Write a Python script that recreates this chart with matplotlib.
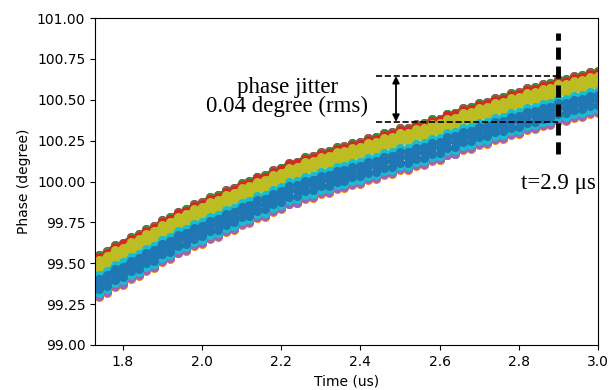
import matplotlib.pyplot as plt
import numpy as np

# time samples (us) and centre of the phase band (degree)
time_us = [1.72, 1.74, 1.76, 1.78, 1.80, 1.82, 1.84, 1.86, 1.88, 1.90,
           1.92, 1.94, 1.96, 1.98, 2.00, 2.02, 2.04, 2.06, 2.08, 2.10,
           2.12, 2.14, 2.16, 2.18, 2.20, 2.22, 2.24, 2.26, 2.28, 2.30,
           2.32, 2.34, 2.36, 2.38, 2.40, 2.42, 2.44, 2.46, 2.48, 2.50,
           2.52, 2.54, 2.56, 2.58, 2.60, 2.62, 2.64, 2.66, 2.68, 2.70,
           2.72, 2.74, 2.76, 2.78, 2.80, 2.82, 2.84, 2.86, 2.88, 2.90,
           2.92, 2.94, 2.96, 2.98, 3.00]
phase_center = [99.39, 99.425, 99.448, 99.485, 99.50, 99.535, 99.552, 99.585, 99.60, 99.64,
                99.656, 99.69, 99.705, 99.735, 99.75, 99.78, 99.79, 99.82, 99.835, 99.865,
                99.876, 99.905, 99.915, 99.945, 99.96, 99.99, 99.996, 100.025, 100.03, 100.055,
                100.06, 100.085, 100.09, 100.11, 100.116, 100.14, 100.146, 100.17, 100.176, 100.20,
                100.201, 100.225, 100.231, 100.255, 100.26, 100.29, 100.296, 100.325, 100.331, 100.355,
                100.361, 100.385, 100.391, 100.415, 100.42, 100.445, 100.451, 100.47, 100.476, 100.50,
                100.501, 100.52, 100.526, 100.545, 100.55]

# each recorded trace: colour and offset from the band centre (degree), in plotting order
trace_colors = ['tab:gray', 'tab:purple', 'tab:brown', 'tab:orange', 'tab:green', 'tab:red',
                'tab:pink', 'tab:orange', 'tab:gray', 'tab:red', 'tab:green', 'tab:purple',
                'tab:cyan', 'tab:olive', 'tab:olive', 'tab:olive', 'tab:cyan',
                'tab:blue', 'tab:blue', 'tab:blue']
trace_offsets = [0.125, 0.12, 0.125, 0.115, 0.12, 0.115,
                 -0.125, -0.13, -0.12, -0.115, -0.12, -0.125,
                 -0.105, 0.095, 0.065, 0.04, 0.005,
                 -0.02, -0.05, -0.085]

y_ticks = [99.00, 99.25, 99.50, 99.75, 100.00, 100.25, 100.50, 100.75, 101.00]
x_ticks = [1.8, 2.0, 2.2, 2.4, 2.6, 2.8, 3.0]

jitter_top = 100.645
jitter_bottom = 100.365
t_mark = 2.9

fig = plt.figure(figsize=(6.1, 3.9), dpi=100)
ax = fig.add_axes([0.1557, 0.1154, 0.8246, 0.8384])

t = np.array(time_us)
base = np.array(phase_center)
for col, off in zip(trace_colors, trace_offsets):
    ax.plot(t, base + off, '-o', color=col, ms=6.5, mew=0, lw=2.5)

# jitter markers
ax.plot([2.44, t_mark], [jitter_top, jitter_top], 'k--', lw=1.2)
ax.plot([2.44, t_mark], [jitter_bottom, jitter_bottom], 'k--', lw=1.2)
ax.annotate('', xy=(2.49, jitter_top), xytext=(2.49, jitter_bottom),
            arrowprops=dict(arrowstyle='<|-|>', color='k', lw=1.3,
                            mutation_scale=10, shrinkA=0, shrinkB=0))
ax.plot([t_mark, t_mark], [100.17, 100.91], color='k', lw=3.5, dashes=(2.5, 1.4))

serif = ['Liberation Serif', 'DejaVu Serif']
ax.text(2.215, 100.515, 'phase jitter\n0.04 degree (rms)', ha='center', va='center',
        fontsize=16.5, family=serif, linespacing=0.88)
ax.text(2.995, 99.99, 't=2.9 \u03bcs', ha='right', va='center', fontsize=16.5, family=serif)

ax.set_xlim(1.73, 3.0)
ax.set_ylim(99.0, 101.0)
ax.set_xticks(x_ticks)
ax.set_yticks(y_ticks)
ax.set_yticklabels(['%.2f' % v for v in y_ticks])
ax.set_xlabel('Time (us)')
ax.set_ylabel('Phase (degree)')

fig.savefig('out.png', dpi=100)
